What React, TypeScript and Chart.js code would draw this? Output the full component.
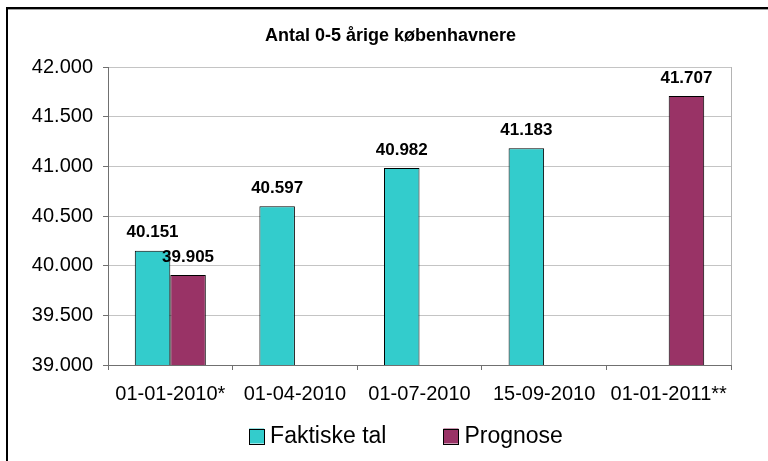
import React, { useEffect, useRef } from 'react';
import { Chart, registerables } from 'chart.js';

Chart.register(...registerables);

const FONT = "'Liberation Sans', Arial, Helvetica, sans-serif";

const chartTitle = 'Antal 0-5 årige københavnere';
const categories = ['01-01-2010*', '01-04-2010', '01-07-2010', '15-09-2010', '01-01-2011**'];
const seriesNames = ['Faktiske tal', 'Prognose'];
const faktiskeTal: (number | null)[] = [40151, 40597, 40982, 41183, null];
const prognose: (number | null)[] = [39905, null, null, null, 41707];
const yMin = 39000;
const yMax = 42000;
const yStep = 500;

const fmt = (v: number) => String(Math.round(v)).replace(/\B(?=(\d{3})+(?!\d))/g, '.');

export default function App() {
  const ref = useRef<HTMLCanvasElement>(null);

  useEffect(() => {
    const canvas = ref.current;
    if (!canvas) return;

    const framePlugin = {
      id: 'frame',
      beforeDatasetsDraw(chart: any) {
        const { ctx, chartArea: a } = chart;
        ctx.save();
        ctx.strokeStyle = '#b4b4b4';
        ctx.lineWidth = 1;
        ctx.beginPath();
        ctx.moveTo(Math.round(a.right) + 0.5, a.top);
        ctx.lineTo(Math.round(a.right) + 0.5, a.bottom);
        ctx.stroke();
        ctx.restore();
      },
      afterDatasetsDraw(chart: any) {
        const { ctx } = chart;
        ctx.save();
        ctx.font = `bold 17px ${FONT}`;
        ctx.fillStyle = '#000';
        ctx.textAlign = 'center';
        ctx.textBaseline = 'middle';
        chart.data.datasets.forEach((ds: any, i: number) => {
          const meta = chart.getDatasetMeta(i);
          meta.data.forEach((el: any, j: number) => {
            const v = ds.data[j];
            if (v === null || v === undefined) return;
            ctx.fillText(fmt(v), el.x, el.y - 18);
          });
        });
        ctx.restore();
      },
      afterDraw(chart: any) {
        const { ctx } = chart;
        ctx.save();
        // title
        ctx.font = `bold 18px ${FONT}`;
        ctx.fillStyle = '#000';
        ctx.textAlign = 'center';
        ctx.textBaseline = 'middle';
        ctx.fillText(chartTitle, 390.5, 36);

        // legend (built from the datasets)
        ctx.font = `23px ${FONT}`;
        ctx.textAlign = 'left';
        const box = 15;
        const gapBoxText = 6;
        const gapItems = 57;
        const items = chart.data.datasets.map((ds: any) => ({
          text: ds.label,
          fill: ds.backgroundColor,
          w: ctx.measureText(ds.label).width,
        }));
        const total = items.reduce((s: number, it: any) => s + box + gapBoxText + it.w, 0) + gapItems * (items.length - 1);
        let x = 406 - total / 2;
        const cy = 436;
        items.forEach((it: any) => {
          ctx.fillStyle = it.fill;
          ctx.fillRect(x, cy - box / 2, box, box);
          ctx.strokeStyle = '#000';
          ctx.lineWidth = 1;
          ctx.strokeRect(Math.round(x) + 0.5, Math.round(cy - box / 2) + 0.5, box, box);
          ctx.fillStyle = '#000';
          ctx.fillText(it.text, x + box + gapBoxText, cy + 1);
          x += box + gapBoxText + it.w + gapItems;
        });

        // outer frame
        ctx.fillStyle = '#000';
        ctx.fillRect(6, 7, 2, 461 - 7);
        ctx.fillRect(6, 7, 762, 2);
        ctx.fillStyle = '#a0a0a0';
        ctx.fillRect(8, 9, 760, 1);
        ctx.restore();
      },
    };

    const chart = new Chart(canvas, {
      type: 'bar',
      data: {
        labels: categories,
        datasets: [
          {
            label: seriesNames[0],
            data: faktiskeTal,
            backgroundColor: '#33CCCC',
            borderColor: '#000000',
            borderWidth: 1,
          },
          {
            label: seriesNames[1],
            data: prognose,
            backgroundColor: '#993366',
            borderColor: '#000000',
            borderWidth: 1,
          },
        ],
      },
      options: {
        responsive: false,
        animation: false,
        events: [],
        layout: { padding: { top: 67, left: 10, right: 37, bottom: 36 } },
        datasets: {
          bar: { categoryPercentage: 0.57, barPercentage: 1 },
        },
        scales: {
          x: {
            grid: {
              display: true,
              drawOnChartArea: false,
              drawTicks: true,
              tickLength: 5,
              tickColor: '#707070',
              offset: true,
            },
            border: { display: true, color: '#707070', width: 1 },
            ticks: {
              color: '#000',
              font: { family: FONT, size: 20 },
              padding: 12,
              maxRotation: 0,
              autoSkip: false,
            },
            afterFit(scale: any) {
              scale.height = 60;
            },
          },
          y: {
            min: yMin,
            max: yMax,
            grid: {
              color: '#c4c4c4',
              tickColor: '#707070',
              tickLength: 5,
              lineWidth: 1,
            },
            border: { display: true, color: '#707070', width: 1 },
            ticks: {
              stepSize: yStep,
              color: '#000',
              font: { family: FONT, size: 20 },
              padding: 10,
              callback: (v: any) => fmt(Number(v)),
            },
            afterFit(scale: any) {
              scale.width = 108 - 10;
            },
          },
        },
        plugins: {
          title: { display: false },
          tooltip: { enabled: false },
          legend: { display: false },
        },
      },
      plugins: [framePlugin],
    } as any);

    return () => chart.destroy();
  }, []);

  return (
    <div style={{ position: 'fixed', left: 0, top: 0, width: 768, height: 461, background: '#fff' }}>
      <canvas ref={ref} width={768} height={461} style={{ display: 'block', width: 768, height: 461 }} />
    </div>
  );
}
